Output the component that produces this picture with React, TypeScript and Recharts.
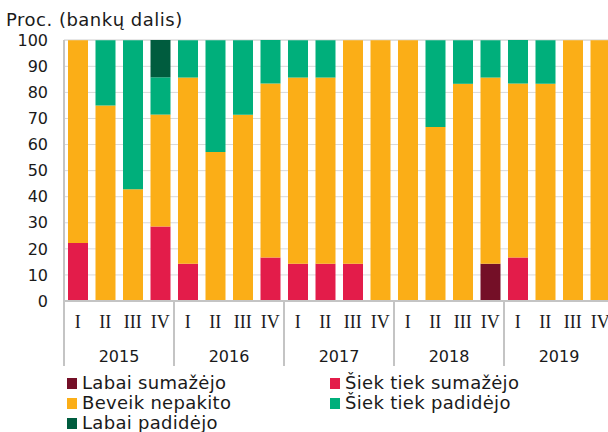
import React from "react";
import { BarChart, Bar, XAxis, YAxis, CartesianGrid, Legend } from "recharts";

const quarters = ["I", "II", "III", "IV", "I", "II", "III", "IV", "I", "II", "III", "IV", "I", "II", "III", "IV", "I", "II", "III", "IV"];
const years = ["2015", "2016", "2017", "2018", "2019"];
const labaiSumazejo = [0, 0, 0, 0, 0, 0, 0, 0, 0, 0, 0, 0, 0, 0, 0, 14.3, 0, 0, 0, 0];
const siekTiekSumazejo = [22.2, 0, 0, 28.6, 14.3, 0, 0, 16.7, 14.3, 14.3, 14.3, 0, 0, 0, 0, 0, 16.7, 0, 0, 0];
const beveikNepakito = [77.8, 75, 42.9, 42.9, 71.4, 57.1, 71.4, 66.7, 71.4, 71.4, 85.7, 100, 100, 66.7, 83.3, 71.4, 66.7, 83.3, 100, 100];
const siekTiekPadidejo = [0, 25, 57.1, 14.3, 14.3, 42.9, 28.6, 16.7, 14.3, 14.3, 0, 0, 0, 33.3, 16.7, 14.3, 16.7, 16.7, 0, 0];
const labaiPadidejo = [0, 0, 0, 14.3, 0, 0, 0, 0, 0, 0, 0, 0, 0, 0, 0, 0, 0, 0, 0, 0];
const yTicks = [0, 10, 20, 30, 40, 50, 60, 70, 80, 90, 100];

const series = [
  { key: "ls", name: "Labai sumažėjo", color: "#740f27", values: labaiSumazejo },
  { key: "ss", name: "Šiek tiek sumažėjo", color: "#e31c4a", values: siekTiekSumazejo },
  { key: "bn", name: "Beveik nepakito", color: "#fbae17", values: beveikNepakito },
  { key: "sp", name: "Šiek tiek padidėjo", color: "#00af7b", values: siekTiekPadidejo },
  { key: "lp", name: "Labai padidėjo", color: "#005c3e", values: labaiPadidejo },
];

const data = quarters.map((q, i) => {
  const row: any = { id: i, q, year: years[Math.floor(i / 4)] };
  series.forEach((s) => (row[s.key] = s.values[i]));
  return row;
});

const CHART_W = 614;
const CHART_H = 432;
const Y_W = 64;
const PLOT_W = CHART_W - Y_W;
const BAND = PLOT_W / quarters.length;
const LEGEND_H = 60;
const X_H = 65;
const MARGIN_BOTTOM = 66 - LEGEND_H;
const PLOT_BOTTOM = CHART_H - MARGIN_BOTTOM - LEGEND_H - X_H;
const SANS = "Verdana, 'DejaVu Sans', sans-serif";

const QuarterTick = (props: any) => {
  const { x, payload } = props;
  const i = payload.value as number;
  const d = data[i];
  const first = i % 4 === 0;
  const y0 = PLOT_BOTTOM;
  return (
    <g>
      <text x={x} y={y0 + 27} textAnchor="middle" fontFamily="'Liberation Serif', 'Times New Roman', serif" fontSize={18} fill="#1a1a1a">
        {d.q}
      </text>
      {first && (
        <>
          <line x1={x - BAND / 2} x2={x - BAND / 2} y1={y0} y2={y0 + 65} stroke="#c4c4c4" strokeWidth={2} />
          <text x={x - BAND / 2 + 2 * BAND} y={y0 + 61} textAnchor="middle" fontFamily={SANS} fontSize={16} fill="#1a1a1a">
            {d.year}
          </text>
        </>
      )}
      {i === quarters.length - 1 && (
        <line x1={x + BAND / 2} x2={x + BAND / 2} y1={y0} y2={y0 + 65} stroke="#c4c4c4" strokeWidth={2} />
      )}
    </g>
  );
};

const LegendContent = () => {
  return (
    <div style={{ position: "relative", width: 600, height: LEGEND_H, fontFamily: SANS, fontSize: 18, letterSpacing: 0.3, color: "#1a1a1a" }}>
      {series.map((s, i) => {
        const col = i % 2;
        const row = Math.floor(i / 2);
        return (
          <div key={s.key} style={{ position: "absolute", left: col === 0 ? 67 : 330, top: row * 20, display: "flex", alignItems: "center", whiteSpace: "nowrap", lineHeight: "20px" }}>
            <span style={{ display: "inline-block", width: 10, height: 11, background: s.color, marginRight: 5 }} />
            <span>{s.name}</span>
          </div>
        );
      })}
    </div>
  );
};

export default function App() {
  return (
    <div style={{ position: "absolute", left: 0, top: 0, width: 608, height: 432, overflow: "hidden", background: "#fff" }}>
      <BarChart width={CHART_W} height={CHART_H} data={data} margin={{ top: 40, right: 0, bottom: MARGIN_BOTTOM, left: 0 }} barSize={20}>
        <CartesianGrid vertical={false} stroke="#d9d9d9" />
        <XAxis dataKey="id" type="category" interval={0} height={X_H} tick={<QuarterTick />} tickLine={false} axisLine={{ stroke: "#c4c4c4", strokeWidth: 2 }} />
        <YAxis
          domain={[0, 100]}
          ticks={yTicks}
          interval={0}
          width={Y_W}
          tickLine={false}
          tickSize={8}
          tickMargin={8}
          axisLine={{ stroke: "#c4c4c4", strokeWidth: 2 }}
          tick={{ fontFamily: SANS, fontSize: 16, fill: "#1a1a1a" }}
          label={{
            content: () => (
              <text x={6} y={26} fontFamily={SANS} fontSize={18} letterSpacing={0.5} fill="#1a1a1a">
                Proc. (bankų dalis)
              </text>
            ),
          }}
        />
        <Legend verticalAlign="bottom" height={LEGEND_H} wrapperStyle={{ position: "absolute", left: 0, top: 373 }} content={<LegendContent />} />
        {series.map((s) => (
          <Bar key={s.key} dataKey={s.key} name={s.name} stackId="a" fill={s.color} isAnimationActive={false} />
        ))}
      </BarChart>
    </div>
  );
}
